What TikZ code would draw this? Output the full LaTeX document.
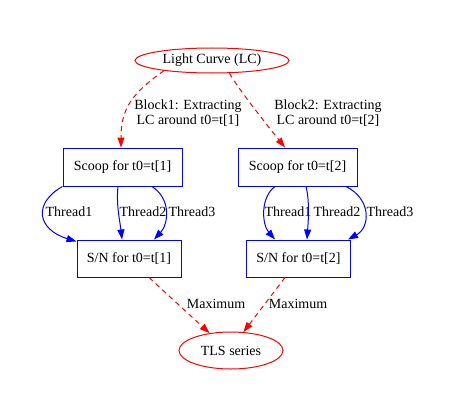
\documentclass[tikz,border=0pt]{standalone}
\usepackage{fontspec}
\setmainfont{Liberation Serif}
\usetikzlibrary{shapes.geometric,arrows.meta}
\tikzset{
  txt/.style={font=\fontsize{14}{15}\selectfont, inner sep=0pt},
  ell/.style={txt, ellipse, draw=red, line width=1pt},
  box/.style={txt, rectangle, draw=blue, line width=1pt},
  redflow/.style={draw=red, line width=1pt, dash pattern=on 5pt off 4pt,
    -{Triangle[length=10pt,width=7pt,fill=red,sep=0pt]}},
  blueflow/.style={draw=blue, line width=1pt,
    -{Triangle[length=10pt,width=7pt,fill=blue]}},
  lbl/.style={txt, align=center}
}
\begin{document}
\begin{tikzpicture}[x=1pt,y=-1pt]
\useasboundingbox (0,0) rectangle (457,412);
\node[ell, minimum width=154pt, minimum height=25pt] (lc) at (212,60.5) {Light Curve (LC)};
\node[box, minimum width=119pt, minimum height=38pt] (s1) at (122.5,167) {Scoop for t0=t[1]};
\node[box, minimum width=119pt, minimum height=38pt] (s2) at (297.5,167) {Scoop for t0=t[2]};
\node[box, minimum width=104pt, minimum height=37pt] (n1) at (129,258.5) {S/N for t0=t[1]};
\node[box, minimum width=104pt, minimum height=37pt] (n2) at (298.5,258.5) {S/N for t0=t[2]};
\node[ell, minimum width=104pt, minimum height=37pt] (tls) at (231,350.5) {TLS series};

% labels
\node[lbl] (b1) at (188,113.5) {Block1: Extracting\\ LC around t0=t[1]};
\node[lbl] (b2) at (328,113.5) {Block2: Extracting\\ LC around t0=t[2]};
\node[txt] (l11) at (69,212) {Thread1};
\node[txt] (l12) at (143,212) {Thread2};
\node[txt] (l13) at (192,212) {Thread3};
\node[txt] (l21) at (288,212) {Thread1};
\node[txt] (l22) at (337,212) {Thread2};
\node[txt] (l23) at (390,212) {Thread3};
\node[txt] (m1) at (216,304) {Maximum};
\node[txt] (m2) at (298,304) {Maximum};

% red dashed edges
\draw[redflow] (lc.192) .. controls +(-33,23) and +(0,-38) .. ([xshift=-1.5pt]s1.north);
\draw[redflow] (lc.324) .. controls +(8,15) and +(-12,-15) .. ([xshift=-12.5pt]s2.north);
\draw[redflow] ([xshift=20pt]n1.south) -- (tls.141);
\draw[redflow] ([xshift=-13.5pt]n2.south) -- (tls.56);

% blue thread edges, block 1
\draw[blueflow] (s1.south west) .. controls +(-30,17) and +(-39,-12) .. ([shift={(0,2)}]n1.north west);
\draw[blueflow] ([xshift=-4.5pt]s1.south) .. controls +(-2,18) and +(-2,-18) .. ([xshift=-7pt]n1.north);
\draw[blueflow] ([xshift=29.5pt]s1.south) .. controls +(20,13) and +(14,-15) .. ([xshift=25pt]n1.north);

% blue thread edges, block 2
\draw[blueflow] ([xshift=-22.5pt]s2.south) .. controls +(-15,11) and +(-13,-15) .. ([xshift=-23.5pt]n2.north);
\draw[blueflow] ([xshift=8.5pt]s2.south) .. controls +(4,15) and +(1,-15) .. ([xshift=8.5pt]n2.north);
\draw[blueflow] ([xshift=48.5pt]s2.south) .. controls +(26,13) and +(22,-12) .. ([xshift=49.5pt]n2.north);
\end{tikzpicture}
\end{document}
